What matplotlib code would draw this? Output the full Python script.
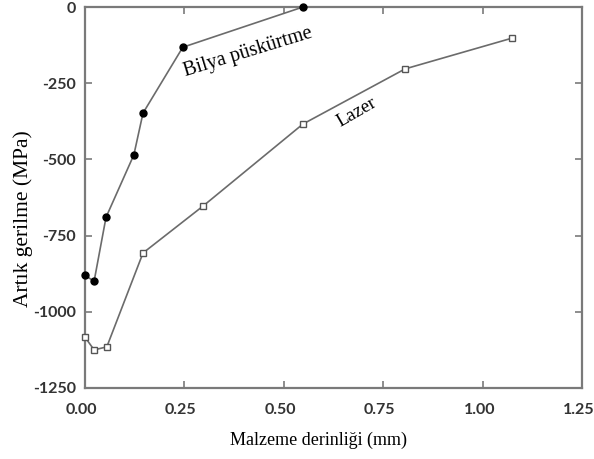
import matplotlib
matplotlib.use('Agg')
import matplotlib.pyplot as plt
from matplotlib.transforms import ScaledTranslation

# shot peening (bilya püskürtme) profile
bilya_x = [0.0, 0.023, 0.053, 0.123, 0.146, 0.246, 0.548]
bilya_y = [-880, -900, -690, -485, -348, -132, 0]

# laser peening (lazer) profile
lazer_x = [0.0, 0.023, 0.055, 0.146, 0.297, 0.548, 0.805, 1.074]
lazer_y = [-1083, -1125, -1115, -807, -653, -384, -203, -102]

xticks = [0.00, 0.25, 0.50, 0.75, 1.00, 1.25]
yticks = [0, -250, -500, -750, -1000, -1250]

farbe_linie = '#6b6b6b'
farbe_achse = '#7a7a7a'

fig = plt.figure(figsize=(5.94, 4.59), dpi=100)
ax = fig.add_axes([0.143, 0.1547, 0.837, 0.830])

ax.plot(bilya_x, bilya_y, '-o', color=farbe_linie, lw=1.2, markersize=5,
        markerfacecolor='black', markeredgecolor='black', clip_on=False, zorder=3)
ax.plot(lazer_x, lazer_y, '-s', color=farbe_linie, lw=1.2, markersize=5,
        markerfacecolor='white', markeredgecolor='#555555', markeredgewidth=1,
        clip_on=False, zorder=3)

ax.set_xlim(0, 1.25)
ax.set_ylim(-1250, 0)
ax.set_xticks(xticks)
ax.set_yticks(yticks)
ax.set_xticklabels(['%.2f' % t for t in xticks])
ax.set_yticklabels(['%d' % t for t in yticks])

for s in ax.spines.values():
    s.set_color(farbe_achse)
    s.set_linewidth(1.6)
ax.tick_params(direction='in', length=5, width=1.2, color=farbe_achse,
               top=True, right=True, labeltop=False, labelright=False)
ax.tick_params(axis='x', pad=10.5)
ax.tick_params(axis='y', pad=6.5)
# nudge the x labels a little left so 1.25 stays inside the figure
links = ScaledTranslation(-2.5 / 72, 0, fig.dpi_scale_trans)
for lab in ax.get_xticklabels():
    lab.set_transform(lab.get_transform() + links)
for lab in ax.get_xticklabels() + ax.get_yticklabels():
    lab.set_fontfamily('Lato')
    lab.set_fontweight('bold')
    lab.set_fontsize(11.5)
    lab.set_color('#333333')

ax.set_xlabel('Malzeme derinliği (mm)', fontfamily='Liberation Serif', fontsize=13)
ax.set_ylabel('Artık gerilme (MPa)', fontfamily='Liberation Serif', fontsize=15.5)
ax.xaxis.set_label_coords(0.47, -0.115)
ax.yaxis.set_label_coords(-0.105, 0.445)

ax.text(0.243, -150, 'Bilya püskürtme', fontfamily='Liberation Serif',
        fontsize=14.5, rotation=17, ha='left', va='center')
ax.text(0.625, -345, 'Lazer', fontfamily='Liberation Serif',
        fontsize=13.5, rotation=30, ha='left', va='center')

plt.savefig('out.png', dpi=100)
